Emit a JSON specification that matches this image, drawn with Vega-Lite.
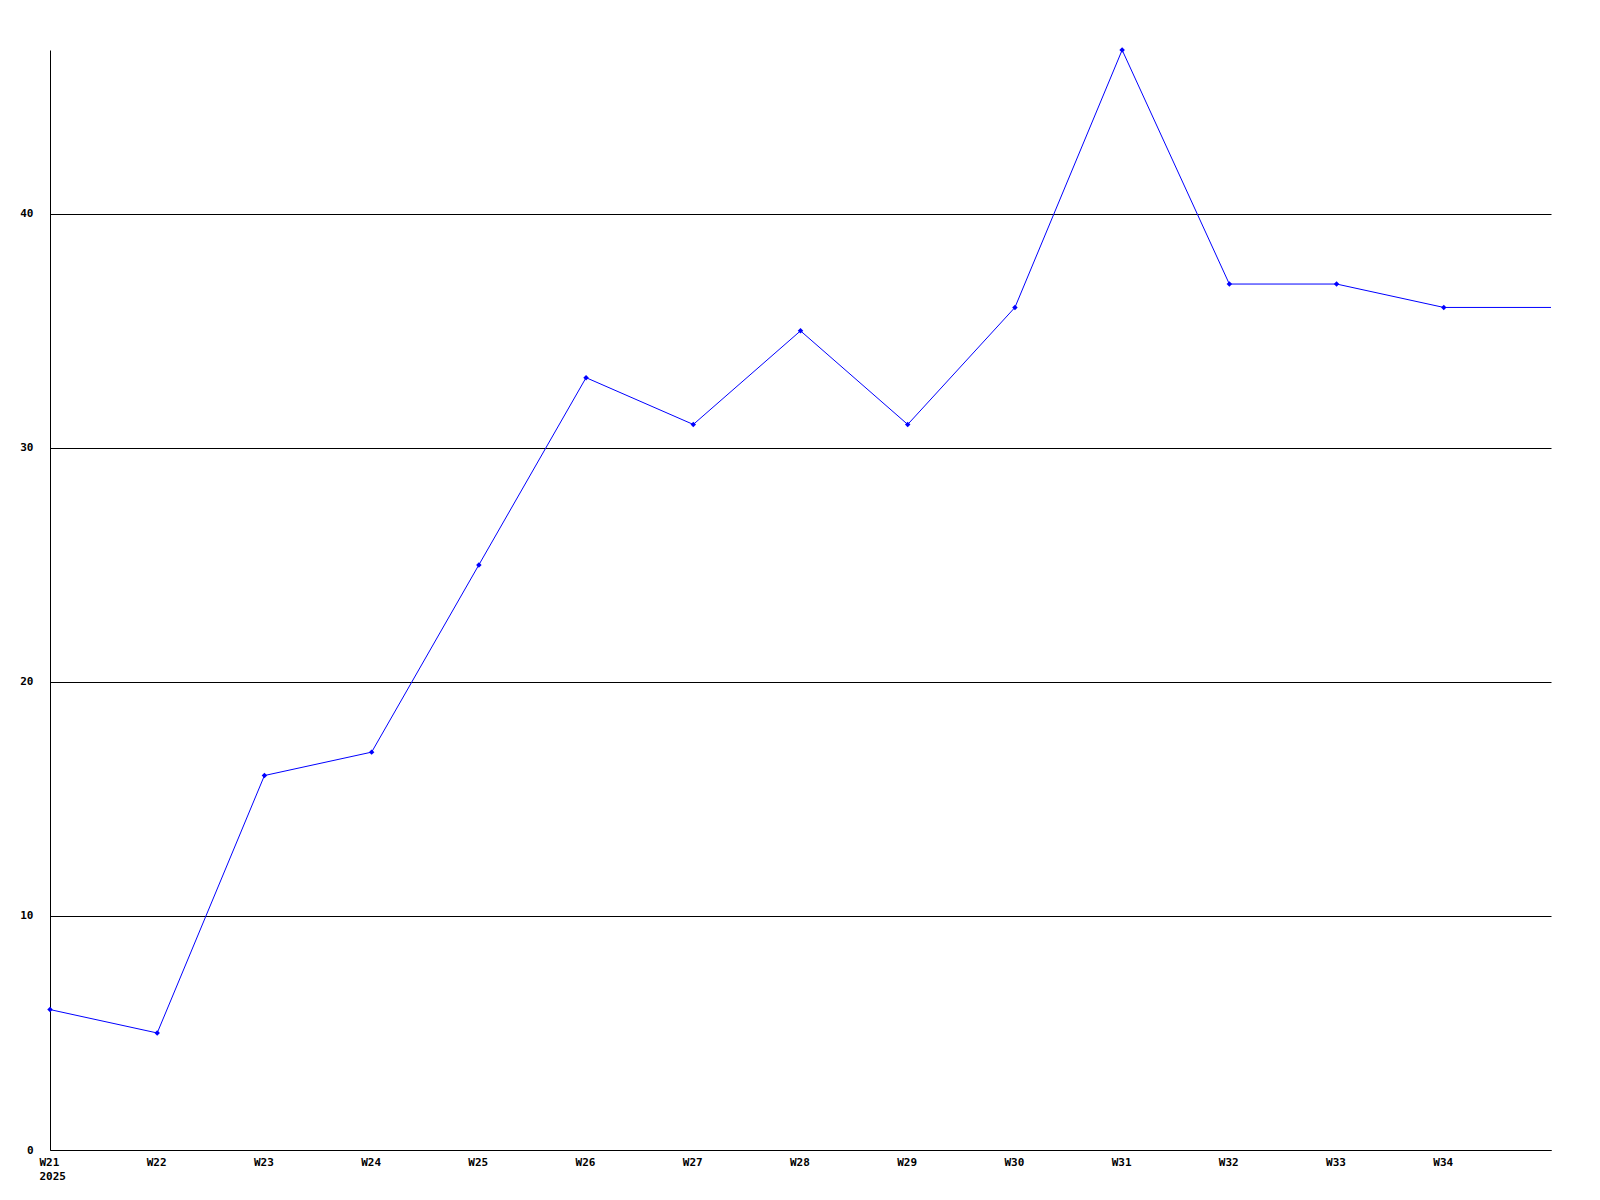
{
  "$schema": "https://vega.github.io/schema/vega-lite/v6.json",
  "width": 1501,
  "height": 1100,
  "autosize": {"type": "none"},
  "padding": {"left": 50, "top": 50, "right": 49, "bottom": 50},
  "background": "white",
  "config": {"view": {"stroke": null}},
  "data": {
    "values": [
      {"week": 21, "value": 6, "marker": true},
      {"week": 22, "value": 5, "marker": true},
      {"week": 23, "value": 16, "marker": true},
      {"week": 24, "value": 17, "marker": true},
      {"week": 25, "value": 25, "marker": true},
      {"week": 26, "value": 33, "marker": true},
      {"week": 27, "value": 31, "marker": true},
      {"week": 28, "value": 35, "marker": true},
      {"week": 29, "value": 31, "marker": true},
      {"week": 30, "value": 36, "marker": true},
      {"week": 31, "value": 47, "marker": true},
      {"week": 32, "value": 37, "marker": true},
      {"week": 33, "value": 37, "marker": true},
      {"week": 34, "value": 36, "marker": true},
      {"week": 35, "value": 36, "marker": false}
    ]
  },
  "encoding": {
    "x": {
      "field": "week",
      "type": "quantitative",
      "scale": {"domain": [21, 35], "nice": false, "zero": false},
      "axis": {
        "title": null,
        "values": [21, 22, 23, 24, 25, 26, 27, 28, 29, 30, 31, 32, 33, 34],
        "labelExpr": "datum.value == 21 ? ['W21', '2025'] : 'W' + datum.value",
        "grid": false,
        "ticks": false,
        "domainColor": "black",
        "domainWidth": 1,
        "labelFont": "DejaVu Sans Mono",
        "labelFontWeight": "bold",
        "labelFontSize": 11,
        "labelColor": "black",
        "labelPadding": 6,
        "labelLineHeight": 14,
        "labelBaseline": "top",
        "labelAlign": "left",
        "labelOffset": -11,
        "labelFlush": false,
        "labelOverlap": false
      }
    },
    "y": {
      "field": "value",
      "type": "quantitative",
      "scale": {"domain": [0, 47], "nice": false},
      "axis": {
        "title": null,
        "values": [0, 10, 20, 30, 40],
        "grid": true,
        "gridColor": "black",
        "gridWidth": 1,
        "gridOpacity": 1,
        "ticks": false,
        "domainColor": "black",
        "domainWidth": 1,
        "labelFont": "DejaVu Sans Mono",
        "labelFontWeight": "bold",
        "labelFontSize": 11,
        "labelColor": "black",
        "labelPadding": 17,
        "labelFlush": false
      }
    }
  },
  "layer": [
    {
      "mark": {"type": "line", "color": "#0000ff", "strokeWidth": 1}
    },
    {
      "transform": [{"filter": "datum.marker"}],
      "mark": {"type": "point", "shape": "diamond", "filled": true, "color": "#0000ff", "size": 30, "opacity": 1}
    }
  ]
}
